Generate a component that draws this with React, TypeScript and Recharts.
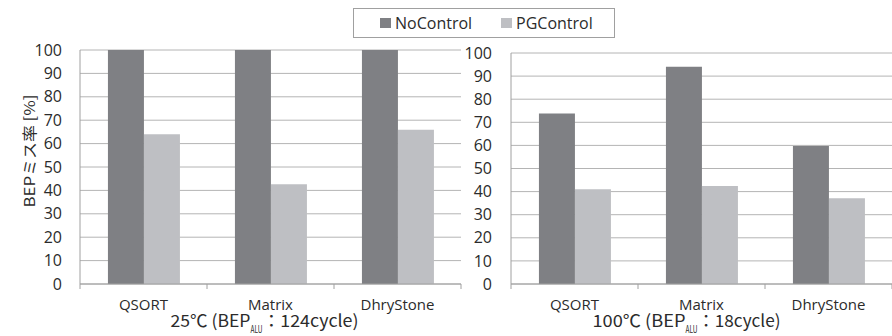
import { BarChart, Bar, XAxis, YAxis, CartesianGrid, Legend } from 'recharts';

const categories = ['QSORT', 'Matrix', 'DhryStone'];
const noControl25 = [100, 100, 100];
const pgControl25 = [64, 42.6, 65.9];
const noControl100 = [73.8, 94, 59.7];
const pgControl100 = [41, 42.4, 37.1];
const yTicks = [0, 10, 20, 30, 40, 50, 60, 70, 80, 90, 100];
const seriesNames = ['NoControl', 'PGControl'];
const title25 = ['25℃ (BEP', 'ALU', '：124cycle)'];
const title100 = ['100℃ (BEP', 'ALU', '：18cycle)'];

const DARK = '#7f8084';
const LIGHT = '#bebfc3';
const GRID = '#b4b4b4';
const AXIS = '#a0a0a0';
const TEXT = '#2b2b2b';
const PLOT_W = 381;

const data25 = categories.map((name, i) => ({ name, NoControl: noControl25[i], PGControl: pgControl25[i] }));
const data100 = categories.map((name, i) => ({ name, NoControl: noControl100[i], PGControl: pgControl100[i] }));

function CategoryTick(props: any) {
  const { x, y, payload, index } = props;
  const bw = PLOT_W / categories.length;
  return (
    <g>
      <line x1={x - bw / 2} x2={x - bw / 2} y1={y} y2={y + 5} stroke={AXIS} />
      {index === categories.length - 1 && (
        <line x1={x + bw / 2} x2={x + bw / 2} y1={y} y2={y + 5} stroke={AXIS} />
      )}
      <text x={x} y={y + 26} textAnchor="middle" fontFamily="Open Sans" fontSize={15} fill={TEXT}>
        {payload.value}
      </text>
    </g>
  );
}

function AxisTitle(props: any) {
  const { viewBox, parts, widths, shift } = props;
  const total = widths[0] + widths[1] + widths[2];
  const cx = viewBox.x + viewBox.width / 2 + shift;
  const x0 = cx - total / 2;
  const by = viewBox.y + 43;
  return (
    <text fontFamily="Noto Sans CJK JP" fill={TEXT}>
      <tspan x={x0} y={by} fontSize={17} textLength={widths[0]} lengthAdjust="spacingAndGlyphs">{parts[0]}</tspan>
      <tspan x={x0 + widths[0]} y={by + 6} fontSize={10} textLength={widths[1]} lengthAdjust="spacingAndGlyphs">{parts[1]}</tspan>
      <tspan x={x0 + widths[0] + widths[1]} y={by} fontSize={17} textLength={widths[2]} lengthAdjust="spacingAndGlyphs">{parts[2]}</tspan>
    </text>
  );
}

function YTitle(props: any) {
  const { viewBox } = props;
  const cx = viewBox.x + 28;
  const cy = viewBox.y + viewBox.height / 2 - 16;
  return (
    <text
      x={cx}
      y={cy}
      transform={`rotate(-90 ${cx} ${cy})`}
      textAnchor="middle"
      dominantBaseline="central"
      fontFamily="Noto Sans CJK JP"
      fontSize={15}
      fill={TEXT}
      textLength={113}
      lengthAdjust="spacingAndGlyphs"
    >
      BEPミス率 [%]
    </text>
  );
}

function LegendBox(props: any) {
  const payload = props.payload || [];
  return (
    <div
      style={{
        width: 262,
        height: 30,
        boxSizing: 'border-box',
        border: `1px solid ${AXIS}`,
        background: '#fff',
        display: 'flex',
        alignItems: 'center',
        paddingLeft: 26,
        fontFamily: 'Open Sans',
        fontSize: 16,
        color: TEXT,
      }}
    >
      {seriesNames.map((name, i) => {
        const item = payload.find((p: any) => p.value === name);
        return (
          <div key={name} style={{ display: 'flex', alignItems: 'center', marginRight: i === 0 ? 29 : 0 }}>
            <span style={{ width: 11, height: 10, background: item ? item.color : i === 0 ? DARK : LIGHT, marginRight: 4 }} />
            <span>{name}</span>
          </div>
        );
      })}
    </div>
  );
}

const tickStyle = { fontFamily: 'Open Sans', fontSize: 16, fill: TEXT };

export default function App() {
  return (
    <div style={{ position: 'absolute', left: 0, top: 0, width: 892, height: 336, background: '#fff' }}>
      <div style={{ position: 'absolute', left: 0, top: 0 }}>
        <BarChart
          width={470}
          height={336}
          data={data25}
          margin={{ top: 50, right: 9, bottom: 0, left: 0 }}
          barCategoryGap="22%"
          barGap={0}
        >
          <CartesianGrid vertical={false} stroke={GRID} yAxisId="l" />
          <YAxis
            yAxisId="l"
            width={80}
            domain={[0, 100]}
            ticks={yTicks}
            interval={0}
            tickLine={false}
            tickSize={0}
            tickMargin={18}
            axisLine={{ stroke: AXIS }}
            tick={tickStyle}
            label={<YTitle />}
          />
          <YAxis yAxisId="r" orientation="right" width={0} tick={false} tickLine={false} axisLine={{ stroke: AXIS }} />
          <XAxis
            dataKey="name"
            height={52}
            tickLine={false}
            tickSize={0}
            tickMargin={0}
            axisLine={{ stroke: AXIS }}
            tick={<CategoryTick />}
            label={<AxisTitle parts={title25} widths={[80, 12, 96]} shift={-6} />}
          />
          <Bar yAxisId="l" dataKey="NoControl" fill={DARK} isAnimationActive={false} />
          <Bar yAxisId="l" dataKey="PGControl" fill={LIGHT} isAnimationActive={false} />
        </BarChart>
      </div>
      <div style={{ position: 'absolute', left: 0, top: 0 }}>
        <BarChart
          width={892}
          height={336}
          data={data100}
          margin={{ top: 53, right: 0, bottom: 0, left: 440 }}
          barCategoryGap="22%"
          barGap={0}
        >
          <CartesianGrid vertical={false} stroke={GRID} />
          <YAxis
            width={71}
            domain={[0, 100]}
            ticks={yTicks}
            interval={0}
            tickLine={false}
            tickSize={0}
            tickMargin={19}
            axisLine={{ stroke: AXIS }}
            tick={tickStyle}
          />
          <XAxis
            dataKey="name"
            height={52}
            tickLine={false}
            tickSize={0}
            tickMargin={0}
            axisLine={{ stroke: AXIS }}
            tick={<CategoryTick />}
            label={<AxisTitle parts={title100} widths={[93, 12, 83]} shift={-15} />}
          />
          <Legend
            layout="vertical"
            align="center"
            verticalAlign="middle"
            content={<LegendBox />}
            wrapperStyle={{ position: 'absolute', left: 353, top: 8, width: 262, height: 30 }}
          />
          <Bar dataKey="NoControl" fill={DARK} isAnimationActive={false} />
          <Bar dataKey="PGControl" fill={LIGHT} isAnimationActive={false} />
        </BarChart>
      </div>
    </div>
  );
}
